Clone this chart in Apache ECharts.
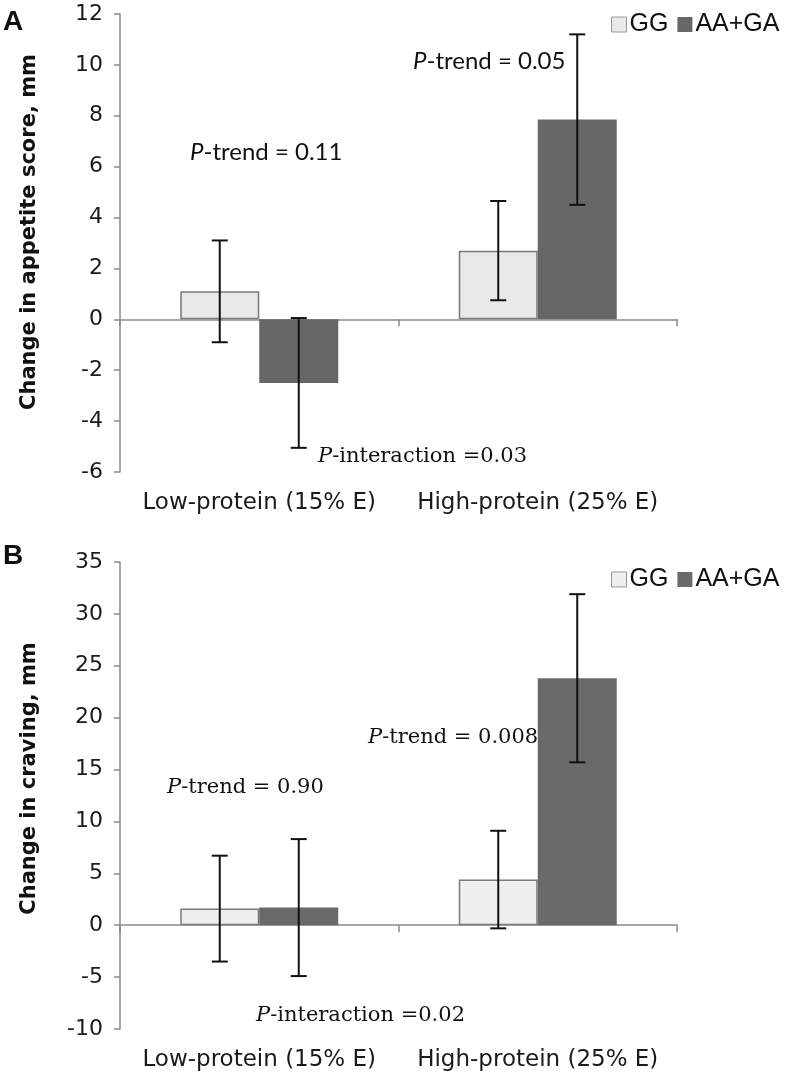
<!DOCTYPE html>
<html>
<head>
<meta charset="utf-8">
<script src="https://cdn.jsdelivr.net/npm/echarts@6/dist/echarts.min.js"></script>
<style>
html,body{margin:0;padding:0;background:#fff;}
#chart{width:790px;height:1078px;}
</style>
</head>
<body>
<div id="chart"></div>
<script>
// ---- data ----
const categories = ['Low-protein (15% E)', 'High-protein (25% E)'];
const seriesNames = ['GG', 'AA+GA'];

// Panel A: change in appetite score, mm
const appetiteGG = [1.1, 2.7];
const appetiteGGse = [2.0, 1.95];
const appetiteAAGA = [-2.5, 7.85];
const appetiteAAGAse = [2.55, 3.35];
const appetiteTicks = { min: -6, max: 12, interval: 2 };

// Panel B: change in craving, mm
const cravingGG = [1.6, 4.4];
const cravingGGse = [5.1, 4.7];
const cravingAAGA = [1.7, 23.8];
const cravingAAGAse = [6.6, 8.1];
const cravingTicks = { min: -10, max: 35, interval: 5 };

const annotations = {
  A: ['P-trend = 0.11', 'P-trend = 0.05', 'P-interaction =0.03'],
  B: ['P-trend = 0.90', 'P-trend = 0.008', 'P-interaction =0.02']
};

// ---- styles ----
const BAR_W = 79;
const SANS = 'Liberation Sans, Arial, sans-serif';
const WIDE = 'DejaVu Sans, sans-serif';
const SERIF = 'DejaVu Serif, serif';
const AXIS_GRAY = '#8a8a8a';

const chart = echarts.init(document.getElementById('chart'), null, { renderer: 'canvas' });

function errorData(means, se) {
  return means.map((m, i) => [i, m - se[i], m + se[i]]);
}

function errRender(sign) {
  return function (params, api) {
    const x = api.value(0), lo = api.value(1), hi = api.value(2);
    const pLo = api.coord([x, lo]);
    const pHi = api.coord([x, hi]);
    const cx = pLo[0] + sign * BAR_W / 2;
    const cap = 8;
    const st = { stroke: '#111', lineWidth: 2 };
    return {
      type: 'group',
      children: [
        { type: 'line', shape: { x1: cx, y1: pLo[1], x2: cx, y2: pHi[1] }, style: st },
        { type: 'line', shape: { x1: cx - cap, y1: pLo[1], x2: cx + cap, y2: pLo[1] }, style: st },
        { type: 'line', shape: { x1: cx - cap, y1: pHi[1], x2: cx + cap, y2: pHi[1] }, style: st }
      ]
    };
  };
}

const grids = [
  { left: 120, width: 557, top: 14, height: 458 },
  { left: 120, width: 557, top: 562, height: 467 }
];

function xAxes(gi) {
  return [
    {
      type: 'category', gridIndex: gi, data: categories,
      axisLine: { onZero: true, lineStyle: { color: AXIS_GRAY, width: 1.5 } },
      axisTick: { show: true, length: 7, lineStyle: { color: AXIS_GRAY, width: 1.5 } },
      axisLabel: { show: false }, splitLine: { show: false }
    },
    {
      type: 'category', gridIndex: gi, data: categories, position: 'bottom',
      axisLine: { show: false, onZero: false }, axisTick: { show: false },
      axisLabel: { show: true, interval: 0, hideOverlap: false, margin: 20, fontFamily: WIDE, fontSize: 23, color: '#1a1a1a' },
      splitLine: { show: false }
    }
  ];
}

function yAxis(gi, ticks, name, shift) {
  return {
    type: 'value', gridIndex: gi, min: ticks.min, max: ticks.max, interval: ticks.interval,
    name: name, nameLocation: 'middle', nameGap: 80,
    nameTextStyle: { fontFamily: WIDE, fontSize: 21, fontWeight: 'bold', color: '#111', padding: [0, 0, 0, shift] },
    axisLine: { show: true, lineStyle: { color: AXIS_GRAY, width: 1.5 } },
    axisTick: { show: true, length: 6, lineStyle: { color: AXIS_GRAY, width: 1.5 } },
    axisLabel: { fontFamily: WIDE, fontSize: 22, color: '#1a1a1a', margin: 17 },
    splitLine: { show: false }
  };
}

function barSeries(name, gi, data, color, border) {
  return {
    type: 'bar', name: name, xAxisIndex: gi * 2, yAxisIndex: gi, data: data,
    barWidth: BAR_W, barGap: '0%',
    itemStyle: { color: color, borderColor: border, borderWidth: 1.5 },
    emphasis: { disabled: true }, animation: false
  };
}

function errSeries(name, gi, data, sign) {
  return {
    type: 'custom', name: name + ' err', xAxisIndex: gi * 2, yAxisIndex: gi,
    data: data, renderItem: errRender(sign), z: 5, animation: false, silent: true
  };
}

const GG_A = '#e9e9e9', GG_B = '#efefef', AA_A = '#676767', AA_B = '#6a6a6a';

const rich = {
  p: { fontFamily: SERIF, fontStyle: 'italic', fontSize: 21, fill: '#111' },
  t: { fontFamily: SERIF, fontSize: 21, fill: '#111' },
  ps: { fontFamily: 'Lato, sans-serif', fontStyle: 'italic', fontSize: 24, fill: '#111' },
  ts: { fontFamily: 'Lato, sans-serif', fontSize: 24, fill: '#111' }
};
function ann(text, x, y, sans) {
  const rest = text.slice(1);
  return {
    type: 'text', x: x, y: y, z: 10,
    style: {
      text: sans ? '{ps|P}{ts|' + rest + '}' : '{p|P}{t|' + rest + '}',
      rich: rich, verticalAlign: 'middle', align: 'left'
    }
  };
}

function legend(top, ggColor, aaColor) {
  return {
    left: 606, top: top, itemWidth: 15, itemHeight: 15, itemGap: 9, icon: 'rect',
    selectedMode: false,
    textStyle: { fontFamily: SANS, fontSize: 25, color: '#111', padding: [0, 0, 0, -2] },
    data: [
      { name: 'GG', itemStyle: { color: ggColor, borderColor: '#999', borderWidth: 1 } },
      { name: 'AA+GA', itemStyle: { color: aaColor, borderWidth: 0 } }
    ]
  };
}

const option = {
  backgroundColor: '#fff',
  animation: false,
  grid: grids,
  xAxis: [...xAxes(0), ...xAxes(1)],
  yAxis: [
    yAxis(0, appetiteTicks, 'Change in appetite score, mm', 22),
    yAxis(1, cravingTicks, 'Change in craving, mm', 34)
  ],
  legend: [legend(7, GG_A, AA_A), legend(562, GG_B, AA_B)],
  series: [
    barSeries(seriesNames[0], 0, appetiteGG, GG_A, '#7a7a7a'),
    barSeries(seriesNames[1], 0, appetiteAAGA, AA_A, '#666'),
    errSeries(seriesNames[0], 0, errorData(appetiteGG, appetiteGGse), -1),
    errSeries(seriesNames[1], 0, errorData(appetiteAAGA, appetiteAAGAse), 1),
    barSeries(seriesNames[0], 1, cravingGG, GG_B, '#7a7a7a'),
    barSeries(seriesNames[1], 1, cravingAAGA, AA_B, '#696969'),
    errSeries(seriesNames[0], 1, errorData(cravingGG, cravingGGse), -1),
    errSeries(seriesNames[1], 1, errorData(cravingAAGA, cravingAAGAse), 1)
  ],
  graphic: [
    { type: 'text', x: 3, y: 8, style: { text: 'A', fontFamily: SANS, fontWeight: 'bold', fontSize: 28, fill: '#111' } },
    { type: 'text', x: 3, y: 542, style: { text: 'B', fontFamily: SANS, fontWeight: 'bold', fontSize: 28, fill: '#111' } },
    ann(annotations.A[0], 190, 152, true),
    ann(annotations.A[1], 413, 61, true),
    ann(annotations.A[2], 318, 457, false),
    ann(annotations.B[0], 167, 788, false),
    ann(annotations.B[1], 368, 738, false),
    ann(annotations.B[2], 256, 1016, false)
  ]
};

chart.setOption(option);
</script>
</body>
</html>
